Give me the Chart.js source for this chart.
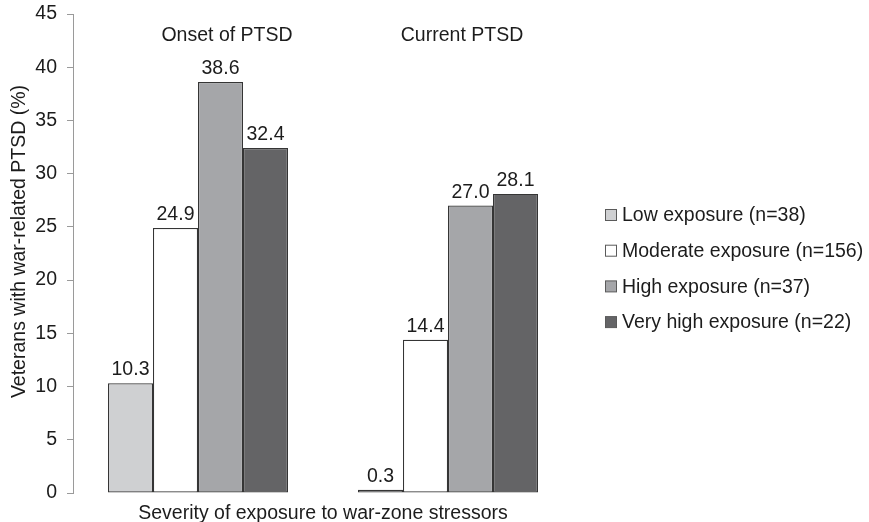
<!DOCTYPE html>
<html>
<head>
<meta charset="utf-8">
<script src="https://cdn.jsdelivr.net/npm/chart.js@4/dist/chart.umd.min.js"></script>
<style>
  html, body { margin: 0; padding: 0; background: #fff; }
  #wrap { width: 869px; height: 522px; position: relative; }
</style>
</head>
<body>
<div id="wrap"><canvas id="chart"></canvas></div>
<script>
// --- Data ---
const groups      = ['Onset of PTSD', 'Current PTSD'];
const seriesNames = ['Low exposure (n=38)', 'Moderate exposure (n=156)', 'High exposure (n=37)', 'Very high exposure (n=22)'];
const lowExp      = [10.3, 0.3];
const moderateExp = [24.9, 14.4];
const highExp     = [38.6, 27.0];
const veryHighExp = [32.4, 28.1];
const yTicks      = { min: 0, max: 45, step: 5 };
const yTitle      = 'Veterans with war-related PTSD (%)';
const xTitle      = 'Severity of exposure to war-zone stressors';

const FONT   = "'Liberation Sans', Arial, Helvetica, sans-serif";
const FSIZE  = 19.5;
const INK    = '#1c1c1c';
const fills  = ['#cfd0d2', '#ffffff', '#a5a6a9', '#646466'];

// --- Plugins: value labels, group titles, y title, legend ---
const valueLabels = {
  id: 'valueLabels',
  afterDatasetsDraw(chart) {
    const ctx = chart.ctx;
    ctx.save();
    ctx.font = `${FSIZE}px ${FONT}`;
    ctx.fillStyle = INK;
    ctx.textAlign = 'center';
    ctx.textBaseline = 'alphabetic';
    chart.data.datasets.forEach((ds, di) => {
      chart.getDatasetMeta(di).data.forEach((bar, i) => {
        ctx.fillText(ds.data[i].toFixed(1), bar.x, bar.y - 8);
      });
    });
    ctx.restore();
  }
};

const groupTitles = {
  id: 'groupTitles',
  afterDraw(chart) {
    const ctx = chart.ctx;
    const x = chart.scales.x;
    const shift = [29, 14];
    ctx.save();
    ctx.font = `${FSIZE}px ${FONT}`;
    ctx.fillStyle = INK;
    ctx.textAlign = 'center';
    ctx.textBaseline = 'middle';
    groups.forEach((g, i) => ctx.fillText(g, x.getPixelForValue(i) + shift[i], 36));
    ctx.restore();
  }
};

// y title sits a little above the plot's middle in the original
const yAxisTitle = {
  id: 'yAxisTitle',
  afterDraw(chart) {
    const ctx = chart.ctx;
    const a = chart.chartArea;
    ctx.save();
    ctx.translate(20, (a.top + a.bottom) / 2 - 12);
    ctx.rotate(-Math.PI / 2);
    ctx.font = `${FSIZE}px ${FONT}`;
    ctx.fillStyle = INK;
    ctx.textAlign = 'center';
    ctx.textBaseline = 'middle';
    ctx.fillText(yTitle, 0, 0);
    ctx.restore();
  }
};

const sideLegend = {
  id: 'sideLegend',
  afterDraw(chart) {
    const ctx = chart.ctx;
    ctx.save();
    ctx.font = `${FSIZE}px ${FONT}`;
    ctx.textBaseline = 'middle';
    chart.data.datasets.forEach((ds, i) => {
      const y = 215 + i * 35.7;
      ctx.fillStyle = ds.backgroundColor;
      ctx.fillRect(605.5, y - 5.5, 11, 11);
      ctx.strokeStyle = '#5a5a5a';
      ctx.lineWidth = 1;
      ctx.strokeRect(605.5, y - 5.5, 11, 11);
      ctx.fillStyle = INK;
      ctx.fillText(ds.label, 622, y + 1);
    });
    ctx.restore();
  }
};

const mkSet = (label, data, i) => ({
  label, data,
  backgroundColor: fills[i],
  borderColor: '#353535',
  borderWidth: 1.2,
  borderSkipped: false,
  barPercentage: 1,
  categoryPercentage: 0.72,
});

new Chart(document.getElementById('chart'), {
  type: 'bar',
  data: {
    labels: groups,
    datasets: [
      mkSet(seriesNames[0], lowExp, 0),
      mkSet(seriesNames[1], moderateExp, 1),
      mkSet(seriesNames[2], highExp, 2),
      mkSet(seriesNames[3], veryHighExp, 3),
    ],
  },
  options: {
    responsive: true,
    maintainAspectRatio: false,
    animation: false,
    layout: { padding: { left: 0, right: 296, top: 14, bottom: 0 } },
    plugins: { legend: { display: false }, tooltip: { enabled: false } },
    scales: {
      x: {
        grid: { display: false },
        border: { display: false },
        ticks: { display: false },
        title: {
          display: true,
          text: xTitle,
          color: INK,
          font: { family: FONT, size: FSIZE, lineHeight: 1 },
          padding: { top: 0, bottom: -1 },
        },
        afterFit(s) { s.height = 29; s.paddingLeft = 0; s.paddingRight = 0; },
      },
      y: {
        min: yTicks.min,
        max: yTicks.max,
        ticks: { stepSize: yTicks.step, color: INK, padding: 10, font: { family: FONT, size: FSIZE } },
        grid: { drawOnChartArea: false, drawTicks: true, tickLength: 6, color: '#9a9a9a' },
        border: { display: true, color: '#9a9a9a', width: 1 },
        title: { display: false },
        afterFit(s) { s.width = 73; s.paddingTop = 0; s.paddingBottom = 0; },
      },
    },
  },
  plugins: [valueLabels, groupTitles, yAxisTitle, sideLegend],
});
</script>
</body>
</html>
